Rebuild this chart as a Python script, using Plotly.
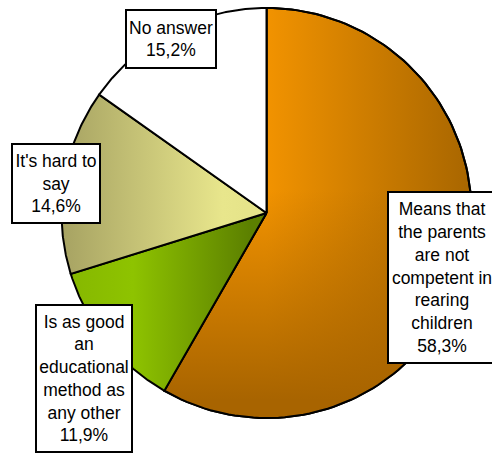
import math
import plotly.graph_objects as go

# Survey answers, clockwise from 12 o'clock
labels = [
    "Means that<br>the parents<br>are not<br>competent in<br>rearing<br>children",
    "Is as good<br>an<br>educational<br>method as<br>any other",
    "It's hard to<br>say",
    "No answer",
]
values = [58.3, 11.9, 14.6, 15.2]

# Gradient colour stops per slice (horizontal direction)
slice_scales = [
    [[0, "#F29300"], [1, "#A86600"]],
    [[0, "#86B800"], [0.35, "#8EC300"], [1, "#5C8000"]],
    [[0, "#A6A262"], [0.88, "#E8E68C"], [1, "#E6E48A"]],
    [[0, "#FFFFFF"], [1, "#FFFFFF"]],
]
slice_ranges = [(266, 471), (70, 250), (61, 245), (0, 492)]

# Label box centres and sizes (outer box, px)
box_centers = [(442, 277.5), (84, 378.5), (56, 183.5), (171, 39)]
box_sizes = [(110, 173), (98, 149), (90, 81), (92, 60)]

W, H = 492, 453
cx, cy, r = 266.5, 213.0, 205.0


def wedge(a0, a1, n=120):
    xs, ys = [cx], [cy]
    for i in range(n + 1):
        a = math.radians(a0 + (a1 - a0) * i / n)
        xs.append(cx + r * math.sin(a))
        ys.append(cy - r * math.cos(a))
    xs.append(cx)
    ys.append(cy)
    return xs, ys


fig = go.Figure()
total = sum(values)
start = 0.0
for i, v in enumerate(values):
    sweep = 360.0 * v / total
    xs, ys = wedge(start, start + sweep)
    fig.add_trace(go.Scatter(
        x=xs, y=ys, mode="lines", fill="toself",
        line=dict(color="black", width=2),
        fillgradient=dict(type="horizontal", colorscale=slice_scales[i],
                          start=slice_ranges[i][0], stop=slice_ranges[i][1]),
        hoverinfo="skip", showlegend=False,
    ))
    if i == 0:
        # darker shading towards the bottom of the large slice
        fig.add_trace(go.Scatter(
            x=xs, y=ys, mode="lines", fill="toself",
            line=dict(color="black", width=2),
            fillgradient=dict(type="vertical",
                              colorscale=[[0, "rgba(168,100,0,0)"],
                                          [1, "rgba(168,100,0,1)"]],
                              start=190, stop=400),
            hoverinfo="skip", showlegend=False,
        ))
    start += sweep

for i, (lab, v) in enumerate(zip(labels, values)):
    bx, by = box_centers[i]
    bw, bh = box_sizes[i]
    txt = lab + "<br>" + f"{v:.1f}".replace(".", ",") + "%"
    fig.add_annotation(
        x=bx, y=by, xref="x", yref="y", text=txt, showarrow=False,
        xanchor="center", yanchor="middle", align="center",
        width=bw - 4, height=bh - 4,
        bgcolor="white", bordercolor="black", borderwidth=2, borderpad=0,
        font=dict(family="Liberation Sans, Arial, sans-serif", size=17.5, color="black"),
    )

fig.update_xaxes(range=[0, W], visible=False, fixedrange=True)
fig.update_yaxes(range=[H, 0], visible=False, fixedrange=True)
fig.update_layout(
    width=W, height=H, margin=dict(l=0, r=0, t=0, b=0),
    paper_bgcolor="white", plot_bgcolor="white",
)

fig.write_html("out.html")
